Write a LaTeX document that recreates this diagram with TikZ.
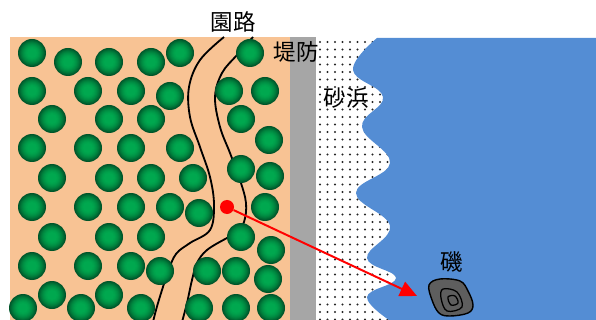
\documentclass[tikz,border=0pt]{standalone}
\usepackage{fontspec}
\newfontfamily\jpfont{Noto Sans CJK JP}
\usetikzlibrary{arrows.meta}

\definecolor{lawn}{HTML}{F8C394}
\definecolor{leafhi}{HTML}{00A84F}
\definecolor{leaflo}{HTML}{00552A}
\definecolor{levee}{HTML}{A6A6A6}
\definecolor{sea}{HTML}{548DD4}
\definecolor{rockgray}{HTML}{5E5E5E}

\tikzset{
	road/.style={line width=1.3pt},
	place/.style={font=\jpfont\fontsize{16}{18}\selectfont, inner sep=0pt},
}

\begin{document}
\begin{tikzpicture}[x=0.025cm,y=-0.025cm]
	\useasboundingbox (0,0) rectangle (596,320);
	% park
	\fill[lawn] (10,37) rectangle (290,320);
	\draw[road] plot[smooth,tension=0.6] coordinates {(224,37) (200,60) (189,87) (190,117) (200,147) (210,177) (214,205) (210,230) (190,243) (176,254) (168,272) (158,303) (153,322)};
	\draw[road] plot[smooth,tension=0.6] coordinates {(253,37) (237,55) (222,73) (215,97) (220,127) (230,153) (240,180) (246,203) (244,222) (236,234) (227,238) (207,250) (197,263) (192,280) (187,303) (182,322)};
	% trees, dark rim fading to a light centre
	\foreach \p in {(32,53),(68,62),(109,62),(151,62),(180,53),(250,53),
		(32,91),(88,91),(131,91),(170,96),(229,91),(265,91),
		(52,119),(109,119),(151,119),(241,119),(269,140),
		(32,148),(88,148),(131,148),(180,148),(241,169),(270,176),
		(52,178),(109,178),(151,178),(193,178),
		(32,207),(88,207),(131,207),(170,207),(199,213),(265,207),
		(52,237),(109,237),(151,237),(241,237),(271,250),
		(32,266),(88,266),(131,266),(160,271),(207,271),(236,271),(268,279),
		(52,295),(109,295),
		(23,308),(81,308),(141,308),(199,308),(236,308),(271,308)}
		\foreach \r/\m in {14/100,13.1/84,12.2/70,11.3/57,10.4/45,9.5/34,8.6/25,7.7/17,6.8/10,5.9/5,5/0}
			\fill[leaflo!\m!leafhi] \p circle[radius=\r*0.025cm];
	\node[circle, fill=red, inner sep=0pt, minimum size=0.35cm] (spot) at (227,207) {};
	% levee and beach
	\fill[levee] (290,37) rectangle (316,320);
	\foreach \x in {320,327.5,...,400}
		\foreach \y in {42,49.5,...,320}
			\fill[black!85] (\x,\y) circle[radius=0.75pt];
	\fill[sea] plot[smooth,tension=0.7] coordinates {(377,38) (353,70) (383,97) (362,127) (390,163) (356,193) (390,226) (367,258) (396,278) (367,297) (392,322)} -- (600,322) -- (600,38) -- cycle;
	% rock
	\draw[fill=rockgray, line width=1pt] plot[smooth cycle,tension=0.6] coordinates {(429,285) (440,279) (460,281) (468,291) (473,305) (468,313) (450,316) (439,313) (432,300)};
	\draw[line width=0.9pt] plot[smooth cycle,tension=0.6] coordinates {(443,289) (457,292) (462,307) (447,311) (441,298)};
	\draw[line width=0.9pt] plot[smooth cycle,tension=0.6] coordinates {(448,297) (455,296) (458,303) (451,305)};
	\coordinate (reach) at (417,296);
	\draw[red, line width=1.4pt, -{Triangle[length=12pt,width=11pt]}] (spot) -- (reach);
	\node[place] (path) at (233,22) {園路};
	\node[place] (wall) at (296,52) {堤防};
	\node[place] (sand) at (346,98) {砂浜};
	\node[place] (iso) at (452,262) {磯};
\end{tikzpicture}
\end{document}
